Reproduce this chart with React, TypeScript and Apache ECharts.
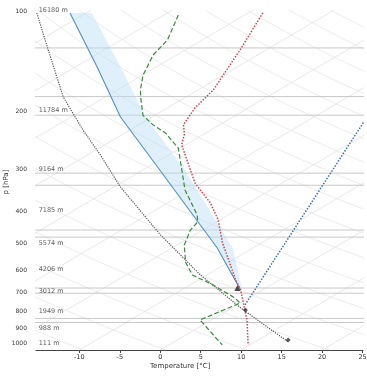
import React, { useEffect, useRef } from 'react';
import * as echarts from 'echarts';

// skew factor: degrees C of horizontal shift per decade of pressure
const SKEW = 70;
const P_BOTTOM = 1050;
const P_TOP = 100;

const pressureTicks = [100, 200, 300, 400, 500, 600, 700, 800, 900, 1000];
const heightLabels = ['16180 m', '11784 m', '9164 m', '7185 m', '5574 m', '4206 m', '3012 m', '1949 m', '988 m', '111 m'];
const tempTicks = [-10, -5, 0, 5, 10, 15, 20, 25];

// environmental temperature
const envPressure = [102, 132, 174, 197, 221, 236, 254, 331, 380, 427, 501, 563, 647, 693, 759, 853, 1014];
const envTemp = [-58.2, -53.2, -48.1, -46.6, -44.5, -42.4, -40.5, -30.8, -24.7, -20.2, -14.8, -10.5, -5.4, -2.7, 0.4, 4.4, 9.8];

// dewpoint
const dewPressure = [103.5, 123, 136.5, 157, 174, 186, 207, 221, 234, 260, 347, 413, 433, 458, 508, 571, 625, 670, 733, 759, 853, 1014];
const dewTemp = [-68.2, -64.3, -62.9, -59.9, -57.1, -55.0, -51.5, -48.3, -45.0, -40.2, -30.6, -23.8, -22.3, -21.5, -19.1, -15.4, -11.8, -7.1, -1.7, 0.0, -1.4, 6.6];

// parcel path
const parcelPressure = [102.1, 131.9, 182.4, 229.3, 272.5, 340, 473.4, 625, 785, 991];
const parcelTemp = [-86.1, -76.9, -65.2, -55.8, -48.4, -39.2, -24.2, -10.8, 1.1, 14.0];

// blue curve and its shaded band
const bluePressure = [102.1, 148.3, 209.6, 302.4, 518.6, 693];
const blueTemp = [-82.0, -67.3, -53.9, -37.9, -14.4, -2.7];
const bandEdgeTemp = [-79.3, -64.4, -50.8, -34.8, -12.5, -2.5];

// blue dotted line
const dottedPressure = [769, 216.9];
const dottedTemp = [1.0, -22.8];

// markers
const trianglePressure = [684];
const triangleTemp = [-3.5];
const pointPressure = [796, 980];
const pointTemp = [2.1, 13.7];

// horizontal layer lines
const layerPressures = [130, 182, 207, 309, 336, 458, 481, 684, 709, 844, 868];

// background reference lines
const isotherms = [-130, -120, -110, -100, -90, -80, -70, -60, -50, -40, -30, -20, -10, 0, 10, 20, 30];
const dryThetas = [260, 270, 280, 290, 300, 310, 320, 330, 340, 350, 360, 370, 380, 390, 400, 410, 420, 430, 440, 450];
const adiabatLevels = [1050, 1000, 950, 900, 850, 800, 750, 700, 650, 600, 550, 500, 450, 400, 350, 300, 250, 200, 175, 150, 125, 100];

const toX = (t: number, p: number) => t + SKEW * Math.log10(P_BOTTOM / p);
const pts = (ps: number[], ts: number[]) => ps.map((p, i) => [toX(ts[i], p), p]);

export default function App() {
  const ref = useRef<HTMLDivElement>(null);
  useEffect(() => {
    document.body.style.margin = '0';
    const chart = echarts.init(ref.current!, null, { renderer: 'svg' });
    const font = 'DejaVu Sans';
    const series: any[] = [];

    isotherms.forEach((t) => {
      series.push({
        type: 'line', data: [[toX(t, P_BOTTOM), P_BOTTOM], [toX(t, P_TOP), P_TOP]],
        symbol: 'none', silent: true, lineStyle: { color: '#e2e2e2', width: 0.8 }, z: 1,
      });
    });
    dryThetas.forEach((th) => {
      series.push({
        type: 'line', data: adiabatLevels.map((p) => [toX(th * Math.pow(p / 1000, 0.2857) - 273.15, p), p]),
        symbol: 'none', silent: true, smooth: true, lineStyle: { color: '#e6e6e6', width: 0.8 }, z: 1,
      });
    });
    layerPressures.forEach((p) => {
      series.push({
        type: 'line', data: [[-100, p], [100, p]], symbol: 'none', silent: true,
        lineStyle: { color: '#c8c8c8', width: 1 }, z: 2,
      });
    });

    const lower = pts(bluePressure, blueTemp);
    const upper = pts(bluePressure, bandEdgeTemp);
    series.push({
      type: 'custom', data: [0], silent: true, z: 3,
      renderItem: (params: any, api: any) => {
        const poly = lower.concat(upper.slice().reverse()).map((d) => api.coord(d));
        return { type: 'polygon', shape: { points: poly }, style: { fill: 'rgba(185,222,245,0.45)' } };
      },
    });

    series.push({ type: 'line', data: lower, symbol: 'none', lineStyle: { color: '#4f8fc9', width: 1.1 }, z: 5 });
    series.push({ type: 'line', data: pts(parcelPressure, parcelTemp), symbol: 'none', lineStyle: { color: '#555', width: 1.2, type: 'dotted' }, z: 5 });
    series.push({ type: 'line', data: pts(dottedPressure, dottedTemp), symbol: 'none', lineStyle: { color: '#3d6fb5', width: 1.5, type: 'dotted' }, z: 5 });
    series.push({ type: 'line', data: pts(envPressure, envTemp), symbol: 'none', lineStyle: { color: '#d0454f', width: 1.5, type: 'dotted' }, z: 6 });
    series.push({ type: 'line', data: pts(dewPressure, dewTemp), symbol: 'none', lineStyle: { color: '#3d8a3d', width: 1.2, type: 'dashed' }, z: 6 });
    series.push({
      type: 'scatter', data: pts(trianglePressure, triangleTemp), symbol: 'triangle', symbolSize: 6,
      itemStyle: { color: '#222' }, z: 7,
    });
    series.push({
      type: 'scatter', data: pts(pointPressure, pointTemp), symbol: 'diamond', symbolSize: 5,
      itemStyle: { color: '#333' }, z: 7,
    });
    series.push({
      type: 'scatter', z: 7, symbolSize: 1, itemStyle: { color: 'rgba(0,0,0,0)' }, silent: true,
      data: pressureTicks.map((p, i) => [-15.2, p, heightLabels[i]]),
      label: {
        show: true, position: 'right', distance: 1, fontSize: 6.5, fontFamily: font, color: '#333',
        formatter: (d: any) => d.data[2],
      },
    });

    chart.setOption({
      animation: false,
      grid: { left: 36, right: 4, top: 10, bottom: 26, outerBoundsMode: 'none', containLabel: false },
      xAxis: {
        type: 'value', min: -15.35, max: 25.05,
        axisLine: { lineStyle: { color: '#444', width: 1 } },
        axisTick: { customValues: tempTicks, length: 3, lineStyle: { color: '#444' } },
        axisLabel: { customValues: tempTicks, fontSize: 6.5, fontFamily: font, color: '#333', margin: 3, formatter: (v: number) => String(v) },
        splitLine: { show: false },
      },
      yAxis: {
        type: 'log', logBase: 10, inverse: true, min: P_TOP, max: P_BOTTOM,
        axisLine: { show: false }, axisTick: { show: false },
        axisLabel: { customValues: pressureTicks, fontSize: 6, fontFamily: font, color: '#333', margin: 9, formatter: (v: number) => String(v) },
        splitLine: { show: false },
      },
      graphic: [
        { type: 'text', left: 150, top: 362, style: { text: 'Temperature [°C]', fontSize: 7, fontFamily: font, fill: '#333' } },
        {
          type: 'text', x: 6, y: 182, rotation: Math.PI / 2,
          style: { text: 'p [hPa]', fontSize: 7, fontFamily: font, fill: '#333', align: 'center', verticalAlign: 'middle' },
        },
      ],
      series,
    });
    return () => chart.dispose();
  }, []);
  return <div ref={ref} style={{ position: 'fixed', left: 0, top: 0, width: 367, height: 376 }} />;
}
